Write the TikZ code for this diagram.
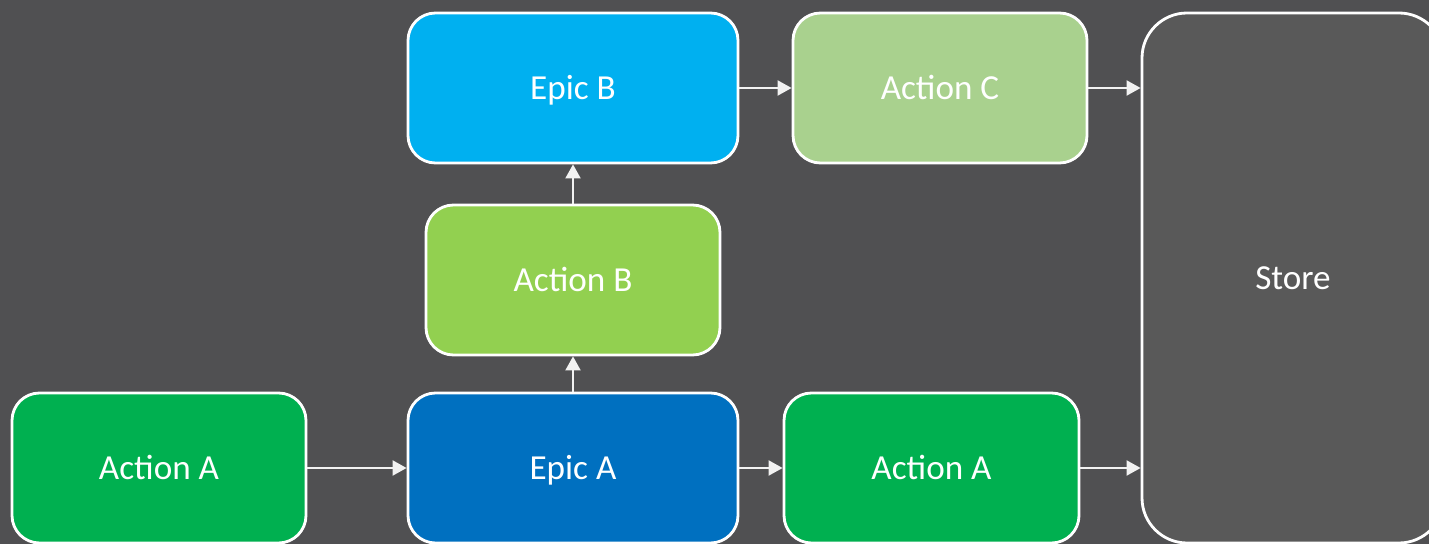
\documentclass[tikz,border=0pt]{standalone}
\usepackage{fontspec}
\setmainfont{Carlito}
\usepackage{xcolor}
\usetikzlibrary{arrows.meta}

\definecolor{bgGray}{HTML}{505052}
\definecolor{storeGray}{HTML}{595959}
\definecolor{actGreen}{HTML}{00B050}
\definecolor{actLime}{HTML}{92D050}
\definecolor{actSage}{HTML}{A9D18E}
\definecolor{epicBlue}{HTML}{0070C0}
\definecolor{epicSky}{HTML}{00B0F0}
\definecolor{wireGray}{HTML}{F2F2F2}

\tikzset{
    block/.style={draw=white, line width=1.6pt, rounded corners=0.55cm,
        minimum width=5.88cm, minimum height=3cm, text=white,
        text height=18pt, text depth=5pt,
        font=\fontsize{20}{24}\selectfont},
    flow/.style={draw=wireGray, line width=1.1pt,
        -{Triangle[length=0.28cm, width=0.3cm]}}
}

\begin{document}
\begin{tikzpicture}
    % Background
    \fill[bgGray] (0,0) rectangle (28.58,10.88);
    \useasboundingbox (0,0) rectangle (28.58,10.88);

    % Bottom row
    \node[block, fill=actGreen] (actionA) at (3.18,1.52) {Action A};
    \node[block, fill=epicBlue, minimum width=6.6cm] (epicA) at (11.46,1.52) {Epic A};
    \node[block, fill=actGreen, minimum width=5.9cm] (actionAout) at (18.63,1.52) {Action A};

    % Middle and top
    \node[block, fill=actLime] (actionB) at (11.46,5.28) {Action B};
    \node[block, fill=epicSky, minimum width=6.6cm] (epicB) at (11.46,9.12) {Epic B};
    \node[block, fill=actSage] (actionC) at (18.8,9.12) {Action C};

    % Store, right edge runs off the page
    \node[block, fill=storeGray, rounded corners=0.9cm, minimum width=6.04cm,
        minimum height=10.6cm] (store) at (25.86,5.32) {Store};

    % Flow between blocks
    \draw[flow] (actionA) -- (epicA);
    \draw[flow] (epicA) -- (actionAout);
    \draw[flow] (epicA) -- (actionB);
    \draw[flow] (actionB) -- (epicB);
    \draw[flow] (epicB) -- (actionC);
    \draw[flow] (actionC.east) -- (actionC.east -| store.west);
    \draw[flow] (actionAout.east) -- (actionAout.east -| store.west);

\end{tikzpicture}
\end{document}
